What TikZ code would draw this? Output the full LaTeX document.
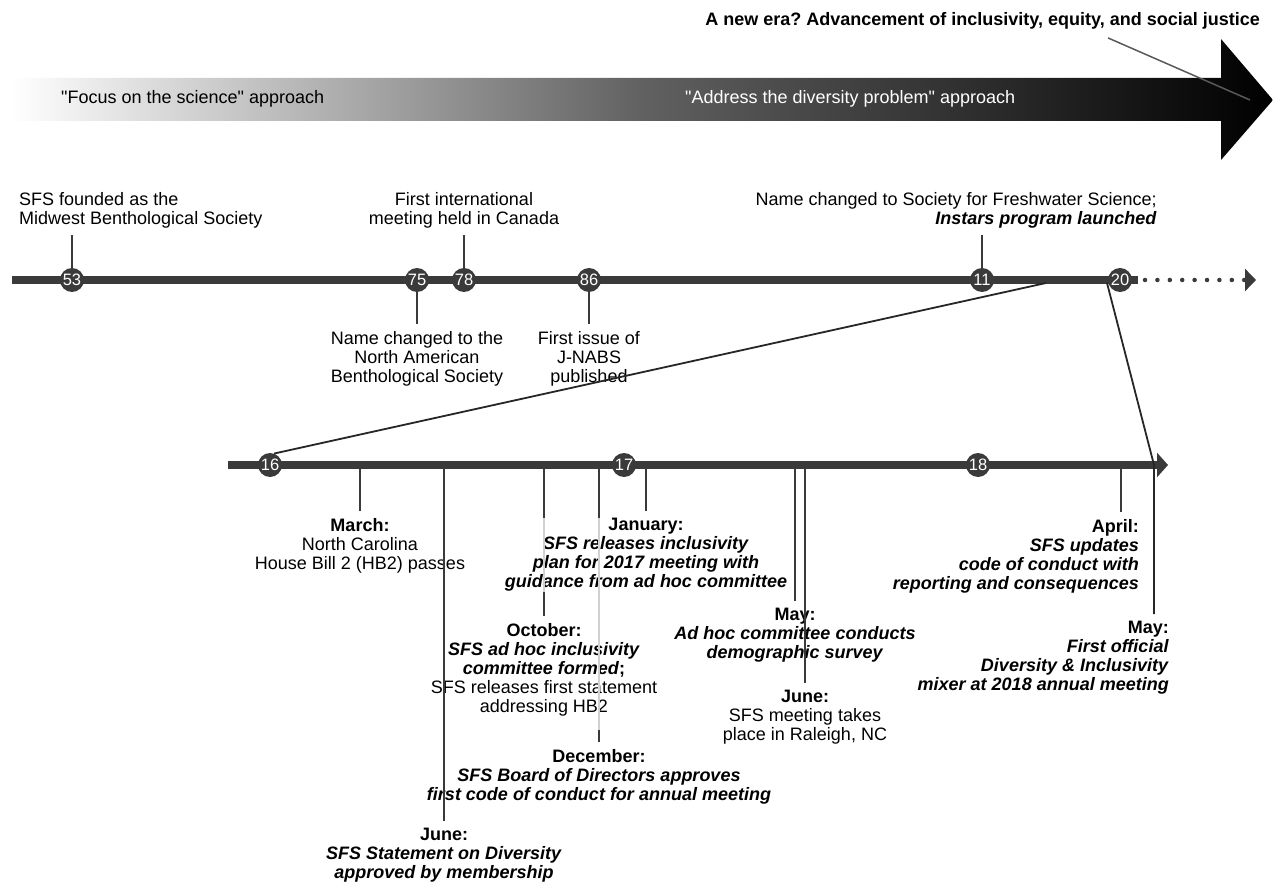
\documentclass[tikz,border=0pt]{standalone}
\usepackage{fontspec}
\setmainfont{Liberation Sans}
\usepackage{tikz}
\usetikzlibrary{arrows, arrows.meta, calc}
\definecolor{axisgray}{HTML}{3A3A3A}
\newcommand{\bi}[1]{\textbf{\textit{#1}}}
\frenchspacing

\begin{document}
\begin{tikzpicture}[x=1pt, y=-1pt, font=\fontsize{18}{19}\selectfont]
\tikzstyle{year}=[circle, fill=axisgray, text=white, minimum size=24pt, inner sep=0pt, font=\fontsize{16.5}{16.5}\selectfont]
\tikzstyle{axis}=[line width=8pt, draw=axisgray]
\tikzstyle{tick}=[line width=2pt, draw=axisgray, shorten >=7pt]
\tikzstyle{fade}=[line width=2pt, draw=black!18]
\tikzstyle{link}=[line width=1.8pt, draw=black!85]
\tikzstyle{event}=[inner sep=0pt, align=center]
\useasboundingbox (0,0) rectangle (1273,882);

\shade[left color=white, right color=black, middle color=black!62]
  (11,78) -- (1221,78) -- (1221,39) -- (1273,100) -- (1221,160) -- (1221,121) -- (11,121) -- cycle;
\node[event, anchor=base west] (focus) at (61,104) {\textquotedbl Focus on the science\textquotedbl{} approach};
\node[event, anchor=base west, text=white] (address) at (685,104) {\textquotedbl Address the diversity problem\textquotedbl{} approach};
\node[event, anchor=base east, font=\fontsize{18}{19}\selectfont\bfseries] (era) at (1260,26)
  {A new era? Advancement of inclusivity, equity, and social justice};
\coordinate (eratip) at (1250,100);
\draw[line width=1.5pt, draw=black!65] ([xshift=-152pt, yshift=-8pt]era.south east) -- (eratip);

\coordinate (start1) at (12,280);
\coordinate (end1) at (1138,280);
\coordinate (tip1) at (1256,280);
\draw[axis] (start1) -- (end1);
\draw[line width=4.5pt, draw=axisgray, line cap=round, dash pattern=on 0pt off 12.4pt,
  -{Triangle[length=11pt, width=22pt]}] ([xshift=7pt]end1) -- (tip1);

\coordinate (start2) at (228,465);
\coordinate (tip2) at (1168,465);
\coordinate (mar16) at (360,465);
\coordinate (jun16) at (444,465);
\coordinate (oct16) at (544,465);
\coordinate (dec16) at (599,465);
\coordinate (jan17) at (646,465);
\coordinate (may17) at (795,465);
\coordinate (jun17) at (805,465);
\coordinate (apr18) at (1121,465);
\coordinate (split) at (1046,283);
\coordinate (split20) at (1107,283);
\coordinate (may18) at (1154,465);

\node[event, anchor=south west, align=left] (midwest) at (19,228) {SFS founded as the\\Midwest Benthological Society};
\node[event, anchor=south] (canada) at (464,228) {First international\\meeting held in Canada};
\node[event, anchor=south east, align=right] (fws) at (1157,228)
  {Name changed to Society for Freshwater Science;\\\bi{Instars program launched}};
\node[event, anchor=north] (nabs) at (417,331) {Name changed to the\\North American\\Benthological Society};
\node[event, anchor=north] (jnabs) at (589,331) {First issue of\\J-NABS\\published};

\node[event, anchor=north] (march) at (360,518) {\textbf{March:}\\North Carolina\\House Bill 2 (HB2) passes};
\node[event, anchor=north] (june) at (444,828) {\textbf{June:}\\\bi{SFS Statement on Diversity}\\\bi{approved by membership}};
\node[event, anchor=north] (october) at (544,623)
  {\textbf{October:}\\\bi{SFS ad hoc inclusivity}\\\bi{committee formed}\textbf{;}\\SFS releases first statement\\addressing HB2};
\node[event, anchor=north] (december) at (599,749)
  {\textbf{December:}\\\bi{SFS Board of Directors approves}\\\bi{first code of conduct for annual meeting}};
\node[event, anchor=north] (january) at (646,518)
  {\textbf{January:}\\\bi{SFS releases inclusivity}\\\bi{plan for 2017 meeting with}\\\bi{guidance from ad hoc committee}};
\node[event, anchor=north] (may) at (795,608) {\textbf{May:}\\\bi{Ad hoc committee conducts}\\\bi{demographic survey}};
\node[event, anchor=north] (raleigh) at (805,690) {\textbf{June:}\\SFS meeting takes\\place in Raleigh, NC};
\node[event, anchor=north east, align=right] (april) at (1139,519)
  {\textbf{April:}\\\bi{SFS updates}\\\bi{code of conduct with}\\\bi{reporting and consequences}};
\node[event, anchor=north east, align=right] (mixer) at (1169,621)
  {\textbf{May:}\\\bi{First official}\\\bi{Diversity \& Inclusivity}\\\bi{mixer at 2018 annual meeting}};

\draw[fade] (oct16 |- january.north) -- ($(oct16 |- october.north)+(0,-31)$);
\draw[fade] (dec16 |- january.north) -- ($(dec16 |- december.north)+(0,-19)$);
\path[tick]
(mar16) edge (mar16 |- march.north)
(jun16) edge (jun16 |- june.north)
(oct16) edge[shorten >=0pt] (oct16 |- january.north)
($(oct16 |- october.north)+(0,-31)$) edge (oct16 |- october.north)
(dec16) edge[shorten >=0pt] (dec16 |- january.north)
($(dec16 |- december.north)+(0,-19)$) edge (dec16 |- december.north)
(jan17) edge (jan17 |- january.north)
(may17) edge (may17 |- may.north)
(jun17) edge (jun17 |- raleigh.north)
(apr18) edge (apr18 |- april.north);
\draw[axis, -{Triangle[length=11pt, width=24pt]}] (start2) -- (tip2);

\node[year] (53) at (72,280) {53};
\node[year] (75) at (417,280) {75};
\node[year] (78) at (464,280) {78};
\node[year] (86) at (589,280) {86};
\node[year] (11) at (982,280) {11};
\node[year] (20) at (1120,280) {20};
\node[year] (16) at (270,465) {16};
\node[year] (17) at (624,465) {17};
\node[year] (18) at (978,465) {18};

\path[tick]
(53) edge (53 |- midwest.south)
(78) edge (78 |- canada.south)
(11) edge (11 |- fws.south)
(75) edge (75 |- nabs.north)
(86) edge (86 |- jnabs.north);

\draw[link] (split) -- (16.70);
\draw[link, shorten >=7pt] (split20) -- (may18) -- (may18 |- mixer.north);
\end{tikzpicture}
\end{document}
